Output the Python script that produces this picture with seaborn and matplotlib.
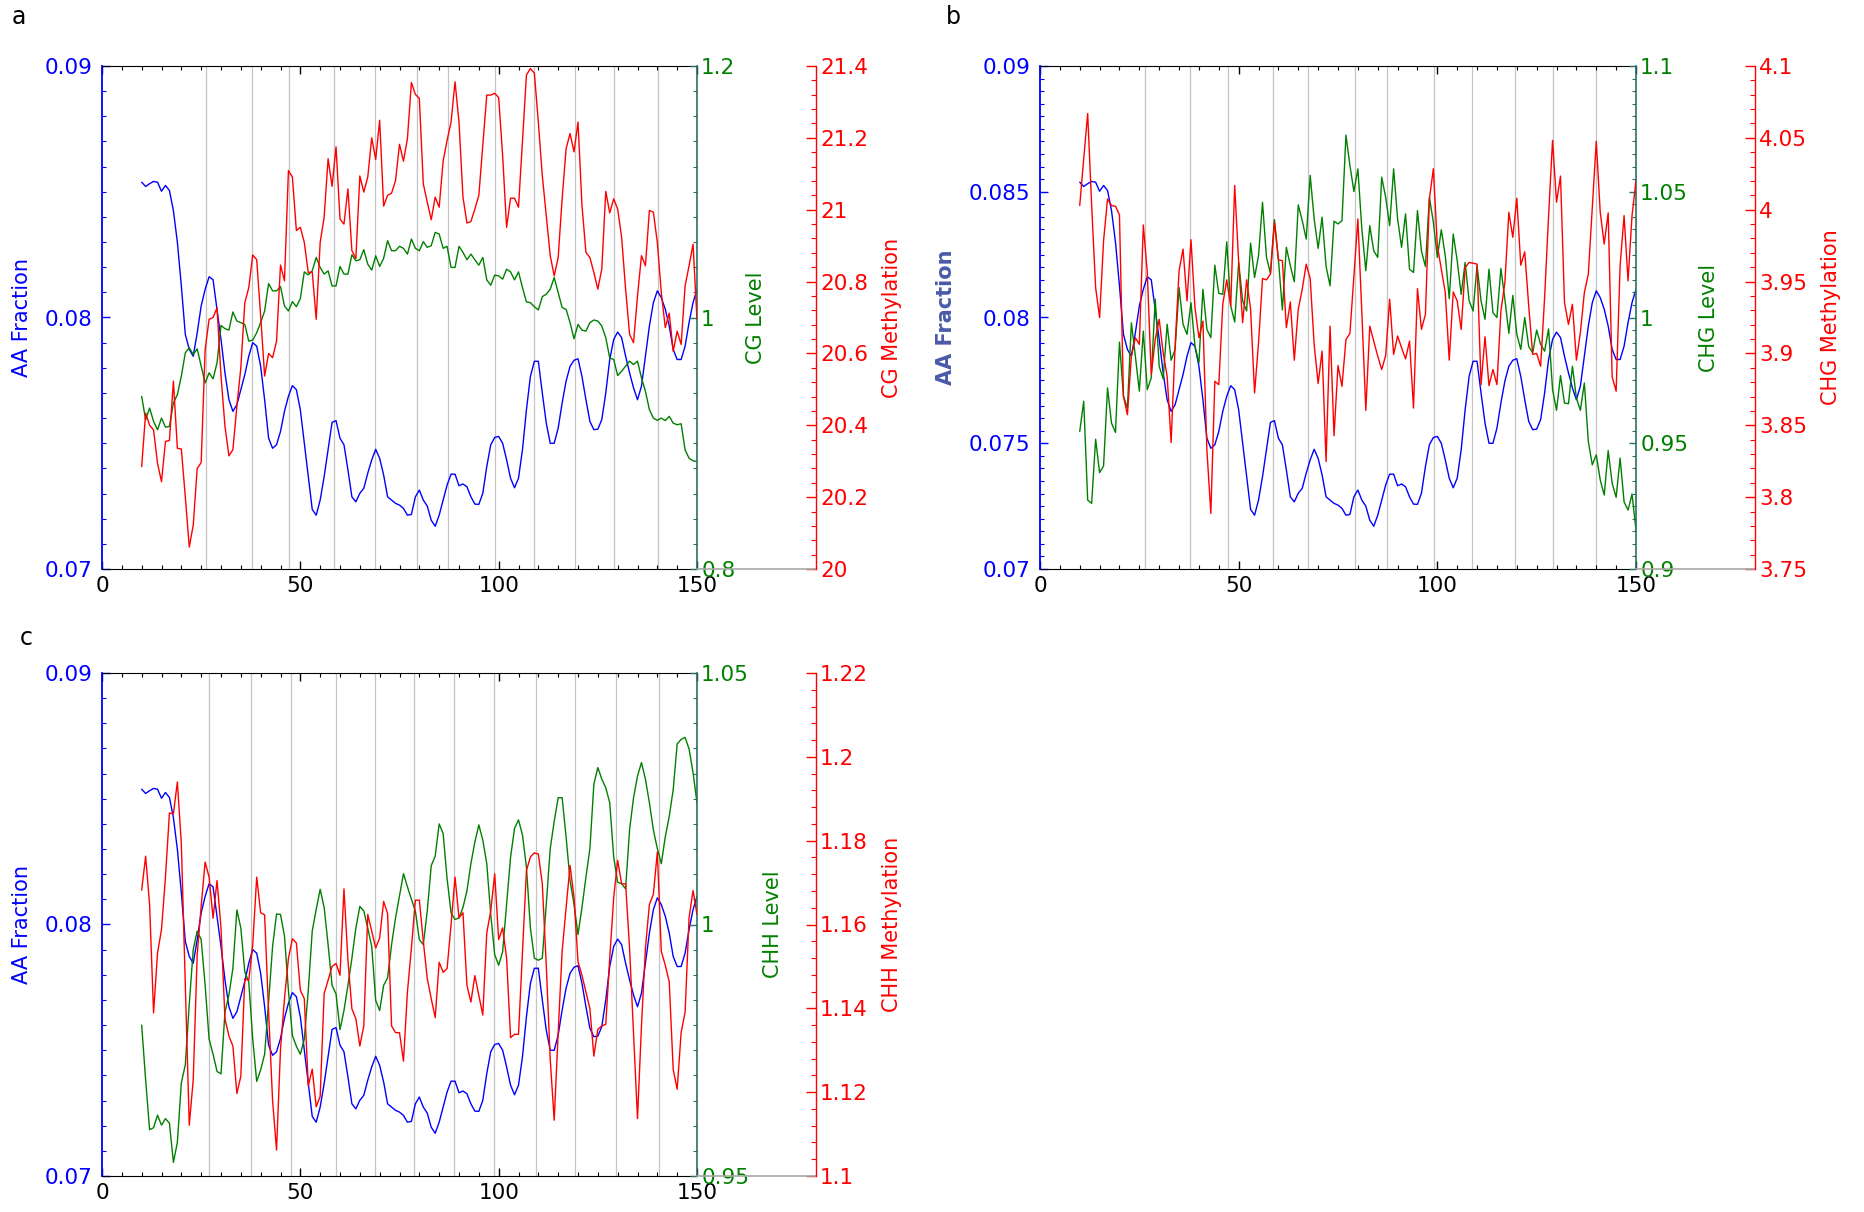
import matplotlib
matplotlib.use("Agg")
import matplotlib.pyplot as plt
import seaborn as sns
import pandas as pd
from matplotlib.ticker import MultipleLocator, FuncFormatter
from matplotlib.lines import Line2D

# ---------------- data ----------------
positions = list(range(10, 151))

aa_fraction = [
    0.08538, 0.08521, 0.08532, 0.08541, 0.08538, 0.08502, 0.08525, 0.08505, 0.08425, 0.08299,
    0.08126, 0.07933, 0.07873, 0.07846, 0.07939, 0.08046, 0.08112, 0.08162, 0.08150, 0.08033,
    0.07913, 0.07780, 0.07673, 0.07627, 0.07653, 0.07713, 0.07773, 0.07846, 0.07900, 0.07886,
    0.07806, 0.07673, 0.07520, 0.07480, 0.07494, 0.07547, 0.07627, 0.07687, 0.07729, 0.07713,
    0.07633, 0.07500, 0.07367, 0.07237, 0.07214, 0.07274, 0.07367, 0.07474, 0.07583, 0.07590,
    0.07520, 0.07494, 0.07394, 0.07287, 0.07267, 0.07301, 0.07321, 0.07381, 0.07434, 0.07476,
    0.07440, 0.07374, 0.07287, 0.07274, 0.07261, 0.07254, 0.07241, 0.07214, 0.07217, 0.07287,
    0.07314, 0.07274, 0.07250, 0.07194, 0.07170, 0.07214, 0.07274, 0.07334, 0.07377, 0.07377,
    0.07331, 0.07338, 0.07327, 0.07287, 0.07258, 0.07257, 0.07301, 0.07407, 0.07494, 0.07523,
    0.07527, 0.07500, 0.07434, 0.07361, 0.07323, 0.07361, 0.07474, 0.07633, 0.07766, 0.07826,
    0.07826, 0.07700, 0.07580, 0.07500, 0.07500, 0.07560, 0.07660, 0.07747, 0.07806, 0.07830,
    0.07836, 0.07766, 0.07673, 0.07587, 0.07554, 0.07556, 0.07594, 0.07700, 0.07833, 0.07913,
    0.07942, 0.07920, 0.07846, 0.07780, 0.07720, 0.07673, 0.07727, 0.07846, 0.07966, 0.08059,
    0.08106, 0.08079, 0.08033, 0.07966, 0.07873, 0.07833, 0.07833, 0.07886, 0.07980, 0.08059,
    0.08112,
]

cg_level = [
    0.9373, 0.9187, 0.9280, 0.9174, 0.9107, 0.9200, 0.9128, 0.9134, 0.9320, 0.9387,
    0.9533, 0.9719, 0.9759, 0.9706, 0.9751, 0.9613, 0.9480, 0.9560, 0.9512, 0.9639,
    0.9937, 0.9911, 0.9900, 1.0044, 0.9972, 0.9959, 0.9945, 0.9812, 0.9820, 0.9879,
    0.9959, 1.0052, 1.0270, 1.0212, 1.0212, 1.0246, 1.0092, 1.0052, 1.0126, 1.0086,
    1.0150, 1.0363, 1.0339, 1.0371, 1.0478, 1.0398, 1.0345, 1.0371, 1.0251, 1.0251,
    1.0406, 1.0345, 1.0345, 1.0499, 1.0451, 1.0459, 1.0539, 1.0424, 1.0377, 1.0491,
    1.0406, 1.0470, 1.0611, 1.0531, 1.0531, 1.0566, 1.0550, 1.0504, 1.0624, 1.0550,
    1.0531, 1.0603, 1.0558, 1.0571, 1.0677, 1.0664, 1.0550, 1.0566, 1.0398, 1.0398,
    1.0566, 1.0518, 1.0459, 1.0504, 1.0459, 1.0416, 1.0478, 1.0299, 1.0257, 1.0337,
    1.0331, 1.0305, 1.0384, 1.0363, 1.0299, 1.0363, 1.0238, 1.0124, 1.0118, 1.0086,
    1.0060, 1.0166, 1.0185, 1.0225, 1.0318, 1.0198, 1.0079, 1.0065, 0.9959, 0.9831,
    0.9945, 0.9900, 0.9892, 0.9959, 0.9980, 0.9972, 0.9932, 0.9839, 0.9679, 0.9666,
    0.9538, 0.9573, 0.9613, 0.9653, 0.9626, 0.9653, 0.9520, 0.9413, 0.9267, 0.9200,
    0.9182, 0.9200, 0.9180, 0.9214, 0.9160, 0.9147, 0.9155, 0.8947, 0.8881, 0.8860,
    0.8854,
]

cg_methylation = [
    20.285, 20.434, 20.400, 20.387, 20.294, 20.243, 20.355, 20.358, 20.523, 20.336,
    20.334, 20.201, 20.061, 20.122, 20.280, 20.296, 20.611, 20.695, 20.700, 20.727,
    20.537, 20.397, 20.315, 20.332, 20.453, 20.560, 20.741, 20.783, 20.874, 20.861,
    20.704, 20.537, 20.600, 20.588, 20.634, 20.846, 20.802, 21.109, 21.091, 20.942,
    20.951, 20.909, 20.825, 20.827, 20.695, 20.909, 20.979, 21.142, 21.065, 21.175,
    20.974, 20.960, 21.058, 20.886, 20.864, 21.094, 21.049, 21.091, 21.200, 21.140,
    21.249, 21.010, 21.040, 21.046, 21.081, 21.182, 21.135, 21.198, 21.354, 21.321,
    21.310, 21.072, 21.021, 20.972, 21.035, 21.007, 21.135, 21.193, 21.244, 21.356,
    21.244, 21.035, 20.963, 20.967, 21.002, 21.040, 21.179, 21.319, 21.319, 21.324,
    21.312, 21.151, 20.951, 21.032, 21.032, 21.007, 21.189, 21.375, 21.393, 21.380,
    21.244, 21.095, 20.984, 20.872, 20.816, 20.867, 21.030, 21.170, 21.212, 21.161,
    21.244, 21.012, 20.881, 20.867, 20.825, 20.779, 20.835, 21.051, 20.991, 21.030,
    21.002, 20.923, 20.779, 20.653, 20.630, 20.760, 20.872, 20.844, 20.998, 20.993,
    20.909, 20.769, 20.672, 20.712, 20.606, 20.662, 20.625, 20.788, 20.844, 20.904,
    20.695,
]

chg_level = [
    0.9547, 0.9667, 0.9274, 0.9261, 0.9516, 0.9383, 0.9410, 0.9720, 0.9580, 0.9543,
    0.9902, 0.9687, 0.9640, 0.9979, 0.9846, 0.9707, 0.9946, 0.9713, 0.9760, 1.0073,
    0.9806, 0.9756, 0.9973, 0.9830, 0.9873, 1.0119, 0.9973, 0.9933, 1.0059, 0.9886,
    0.9820, 1.0112, 0.9953, 0.9920, 1.0208, 1.0096, 1.0092, 1.0301, 1.0046, 0.9982,
    1.0219, 1.0066, 1.0026, 1.0296, 1.0159, 1.0246, 1.0458, 1.0239, 1.0176, 1.0389,
    1.0232, 1.0030, 1.0279, 1.0206, 1.0142, 1.0448, 1.0385, 1.0312, 1.0565, 1.0392,
    1.0275, 1.0399, 1.0203, 1.0126, 1.0383, 1.0372, 1.0385, 1.0725, 1.0605, 1.0501,
    1.0591, 1.0352, 1.0186, 1.0365, 1.0265, 1.0239, 1.0558, 1.0478, 1.0365, 1.0591,
    1.0392, 1.0279, 1.0412, 1.0192, 1.0179, 1.0425, 1.0265, 1.0203, 1.0478, 1.0379,
    1.0239, 1.0349, 1.0246, 1.0075, 1.0332, 1.0226, 1.0092, 1.0219, 1.0066, 1.0026,
    1.0206, 1.0066, 0.9993, 1.0192, 1.0019, 1.0000, 1.0195, 1.0073, 0.9937, 1.0088,
    0.9933, 0.9873, 1.0000, 0.9884, 0.9860, 0.9950, 0.9893, 0.9866, 0.9955, 0.9713,
    0.9631, 0.9769, 0.9660, 0.9657, 0.9806, 0.9680, 0.9631, 0.9740, 0.9507, 0.9414,
    0.9454, 0.9354, 0.9294, 0.9471, 0.9341, 0.9285, 0.9441, 0.9267, 0.9234, 0.9298,
    0.9154,
]

chg_methylation = [
    4.0029, 4.0355, 4.0669, 4.0030, 3.9458, 3.9249, 3.9784, 4.0075, 4.0029, 4.0024,
    3.9964, 3.8702, 3.8574, 3.8981, 3.9109, 3.9063, 3.9894, 3.9563, 3.8853, 3.9097,
    3.9237, 3.9004, 3.8841, 3.8380, 3.9051, 3.9575, 3.9726, 3.9365, 3.9791, 3.9319,
    3.9109, 3.9225, 3.8329, 3.7887, 3.8806, 3.8783, 3.9342, 3.9512, 3.9330, 4.0169,
    3.9633, 3.9214, 3.9512, 3.9307, 3.8725, 3.9074, 3.9521, 3.9512, 3.9552, 3.9913,
    3.9652, 3.9645, 3.9179, 3.9358, 3.8953, 3.9307, 3.9447, 3.9621, 3.9521, 3.9063,
    3.8790, 3.9016, 3.8248, 3.9190, 3.8427, 3.8916, 3.8771, 3.9097, 3.9139, 3.9540,
    3.9936, 3.9284, 3.8604, 3.9190, 3.9086, 3.8981, 3.8888, 3.8986, 3.9377, 3.8993,
    3.9121, 3.9040, 3.8962, 3.9086, 3.8620, 3.9451, 3.9167, 3.9272, 4.0075, 4.0285,
    3.9750, 3.9587, 3.9423, 3.8953, 3.9428, 3.9365, 3.9167, 3.9598, 3.9633, 3.9628,
    3.9621, 3.8783, 3.9116, 3.8776, 3.8888, 3.8783, 3.9295, 3.9493, 3.9982, 3.9808,
    4.0080, 3.9614, 3.9707, 3.9330, 3.8993, 3.9000, 3.8911, 3.9389, 3.9959, 4.0483,
    4.0052, 4.0234, 3.9354, 3.9202, 3.9342, 3.8953, 3.9144, 3.9423, 3.9552, 4.0017,
    4.0476, 3.9982, 3.9761, 3.9978, 3.8837, 3.8737, 3.9610, 3.9959, 3.9505, 3.9959,
    4.0204,
]

chh_level = [
    0.9800, 0.9691, 0.9592, 0.9596, 0.9621, 0.9601, 0.9614, 0.9605, 0.9527, 0.9567,
    0.9685, 0.9721, 0.9842, 0.9950, 0.9987, 0.9970, 0.9879, 0.9772, 0.9742, 0.9708,
    0.9703, 0.9826, 0.9860, 0.9913, 1.0029, 0.9993, 0.9906, 0.9886, 0.9772, 0.9688,
    0.9711, 0.9742, 0.9846, 0.9956, 1.0021, 1.0020, 0.9977, 0.9869, 0.9779, 0.9758,
    0.9742, 0.9772, 0.9869, 0.9987, 1.0030, 1.0070, 1.0034, 0.9960, 0.9879, 0.9862,
    0.9791, 0.9829, 0.9879, 0.9933, 0.9993, 1.0036, 1.0027, 0.9993, 0.9956, 0.9849,
    0.9829, 0.9879, 0.9894, 0.9960, 1.0013, 1.0057, 1.0101, 1.0075, 1.0050, 1.0027,
    0.9970, 0.9960, 1.0027, 1.0117, 1.0136, 1.0200, 1.0181, 1.0091, 1.0023, 1.0010,
    1.0013, 1.0034, 1.0067, 1.0121, 1.0164, 1.0198, 1.0168, 1.0121, 1.0020, 0.9940,
    0.9919, 0.9946, 1.0040, 1.0134, 1.0191, 1.0208, 1.0178, 1.0114, 0.9993, 0.9933,
    0.9929, 0.9933, 1.0040, 1.0151, 1.0205, 1.0252, 1.0252, 1.0174, 1.0087, 1.0040,
    0.9980, 1.0034, 1.0094, 1.0151, 1.0279, 1.0312, 1.0289, 1.0272, 1.0242, 1.0134,
    1.0084, 1.0081, 1.0071, 1.0188, 1.0252, 1.0295, 1.0322, 1.0289, 1.0242, 1.0188,
    1.0151, 1.0121, 1.0174, 1.0215, 1.0268, 1.0359, 1.0368, 1.0372, 1.0349, 1.0302,
    1.0242,
]

chh_methylation = [
    1.1682, 1.1763, 1.1648, 1.1389, 1.1532, 1.1588, 1.1713, 1.1866, 1.1864, 1.1940,
    1.1793, 1.1455, 1.1121, 1.1230, 1.1528, 1.1644, 1.1749, 1.1713, 1.1615, 1.1705,
    1.1592, 1.1375, 1.1334, 1.1310, 1.1197, 1.1238, 1.1471, 1.1467, 1.1552, 1.1713,
    1.1628, 1.1623, 1.1391, 1.1181, 1.1062, 1.1302, 1.1423, 1.1519, 1.1566, 1.1556,
    1.1443, 1.1423, 1.1215, 1.1255, 1.1165, 1.1190, 1.1435, 1.1467, 1.1500, 1.1507,
    1.1479, 1.1685, 1.1515, 1.1399, 1.1375, 1.1310, 1.1358, 1.1624, 1.1584, 1.1544,
    1.1568, 1.1655, 1.1626, 1.1358, 1.1342, 1.1342, 1.1274, 1.1439, 1.1544, 1.1658,
    1.1658, 1.1560, 1.1471, 1.1423, 1.1378, 1.1510, 1.1486, 1.1495, 1.1600, 1.1713,
    1.1616, 1.1628, 1.1455, 1.1415, 1.1478, 1.1431, 1.1384, 1.1580, 1.1632, 1.1721,
    1.1564, 1.1592, 1.1520, 1.1330, 1.1338, 1.1338, 1.1536, 1.1729, 1.1761, 1.1771,
    1.1768, 1.1697, 1.1503, 1.1278, 1.1133, 1.1342, 1.1536, 1.1640, 1.1741, 1.1664,
    1.1511, 1.1479, 1.1439, 1.1399, 1.1286, 1.1350, 1.1358, 1.1362, 1.1520, 1.1664,
    1.1753, 1.1697, 1.1697, 1.1544, 1.1342, 1.1137, 1.1358, 1.1544, 1.1648, 1.1672,
    1.1773, 1.1536, 1.1503, 1.1463, 1.1254, 1.1207, 1.1342, 1.1391, 1.1616, 1.1681,
    1.1624,
]

grid_a = [26.2, 37.9, 47.2, 58.6, 68.7, 79.5, 87.3, 99.1, 109.0, 119.3, 129.2, 140.1]
grid_b = [26.5, 37.8, 47.4, 58.7, 67.5, 79.4, 87.4, 99.2, 108.8, 119.5, 129.0, 140.0]
grid_c = [26.9, 37.6, 47.7, 59.1, 68.7, 78.7, 88.7, 98.8, 109.3, 119.2, 129.5, 140.3]

# ---------------- style ----------------
sns.set_style("white")
plt.rcParams['font.family'] = ['DejaVu Sans']

BLUE = '#0000ff'
GREEN = '#008000'
RED = '#ff0000'
TEAL = '#2a6f64'
GRID = '#c4c4c4'
TICK_FS = 15.5
LABEL_FS = 15

fig = plt.figure(figsize=(18.64, 12.12), dpi=100)


def fmt(v, p):
    return f"{round(v, 6):g}"


def make_panel(rect, level, meth, grid, lvl_lim, lvl_steps, meth_lim, meth_steps,
               aa_steps, lvl_name, meth_name, letter, letter_xy,
               aa_label_x, lvl_label_x, meth_label_x, aa_color, aa_weight):
    df = pd.DataFrame({'pos': positions, 'aa': aa_fraction,
                       'level': level, 'meth': meth})
    ax = fig.add_axes(rect)
    ax2 = ax.twinx()
    ax3 = ax.twinx()

    for g in grid:
        ax.axvline(g, color=GRID, lw=0.9, zorder=0)

    sns.lineplot(data=df, x='pos', y='aa', ax=ax, color=BLUE, lw=1.0, estimator=None)
    sns.lineplot(data=df, x='pos', y='level', ax=ax2, color=GREEN, lw=1.0, estimator=None)
    sns.lineplot(data=df, x='pos', y='meth', ax=ax3, color=RED, lw=1.0, estimator=None)

    for a in (ax, ax2, ax3):
        a.set_xlabel('')
        a.set_ylabel('')
        a.set_xlim(0, 150)

    ax.set_ylim(0.07, 0.09)
    ax2.set_ylim(*lvl_lim)
    ax3.set_ylim(*meth_lim)

    # x axis
    ax.xaxis.set_major_locator(MultipleLocator(50))
    ax.xaxis.set_minor_locator(MultipleLocator(5))
    ax.tick_params(axis='x', which='both', direction='in', top=True, bottom=True,
                   colors='black', labelsize=TICK_FS, pad=5)
    ax.tick_params(axis='x', which='major', length=6, width=1)
    ax.tick_params(axis='x', which='minor', length=3, width=0.8)

    # left axis (AA Fraction)
    ax.yaxis.set_major_locator(MultipleLocator(aa_steps[0]))
    ax.yaxis.set_minor_locator(MultipleLocator(aa_steps[1]))
    ax.yaxis.set_major_formatter(FuncFormatter(fmt))
    ax.tick_params(axis='y', which='both', direction='in', left=True, right=False,
                   colors=BLUE, labelsize=TICK_FS, pad=7)
    ax.tick_params(axis='y', which='major', length=6, width=1)
    ax.tick_params(axis='y', which='minor', length=3, width=0.8)

    # green axis
    ax2.yaxis.set_major_locator(MultipleLocator(lvl_steps[0]))
    ax2.yaxis.set_minor_locator(MultipleLocator(lvl_steps[1]))
    ax2.yaxis.set_major_formatter(FuncFormatter(fmt))
    ax2.tick_params(axis='y', which='both', direction='in', right=True, left=False,
                    color=TEAL, labelcolor=GREEN, labelsize=TICK_FS, pad=3)
    ax2.tick_params(axis='y', which='major', length=5, width=1)
    ax2.tick_params(axis='y', which='minor', length=3, width=0.8)

    # red axis
    ax3.spines['right'].set_position(('axes', 1.2))
    ax3.yaxis.set_major_locator(MultipleLocator(meth_steps[0]))
    ax3.yaxis.set_minor_locator(MultipleLocator(meth_steps[1]))
    ax3.yaxis.set_major_formatter(FuncFormatter(fmt))
    ax3.tick_params(axis='y', which='both', direction='in', right=True, left=False,
                    color=RED, labelcolor=RED, labelsize=TICK_FS, pad=3)
    ax3.tick_params(axis='y', which='major', length=7, width=1)
    ax3.tick_params(axis='y', which='minor', length=3.5, width=0.8)

    # spines
    ax.spines['left'].set_color(BLUE)
    ax.spines['left'].set_linewidth(1.3)
    ax.spines['top'].set_color('black')
    ax.spines['bottom'].set_color('black')
    ax.spines['right'].set_visible(False)
    for s in ('left', 'top', 'bottom'):
        ax2.spines[s].set_visible(False)
        ax3.spines[s].set_visible(False)
    ax2.spines['right'].set_color(TEAL)
    ax2.spines['right'].set_linewidth(1.2)
    ax3.spines['right'].set_color(RED)
    ax3.spines['right'].set_linewidth(1.0)
    ax3.add_artist(Line2D([1.0, 1.2], [0, 0], transform=ax3.transAxes,
                          color='#a8a8a8', lw=1.2, clip_on=False))

    # axis labels
    ax.text(aa_label_x, 0.5, 'AA Fraction', transform=ax.transAxes, rotation=90,
            ha='center', va='center', color=aa_color, fontsize=LABEL_FS,
            fontweight=aa_weight)
    ax.text(lvl_label_x, 0.5, lvl_name, transform=ax.transAxes, rotation=90,
            ha='center', va='center', color=GREEN, fontsize=LABEL_FS)
    ax.text(meth_label_x, 0.5, meth_name, transform=ax.transAxes, rotation=90,
            ha='center', va='center', color=RED, fontsize=LABEL_FS)

    fig.text(letter_xy[0] / 1864, 1 - letter_xy[1] / 1212, letter, ha='center',
             va='center', fontsize=17, color='black')


W, H = 1864, 1212
make_panel([102 / W, 1 - 569 / H, 595 / W, 503 / H], cg_level, cg_methylation, grid_a,
           (0.8, 1.2), (0.2, 0.02), (20.0, 21.4), (0.2, 0.04), (0.01, 0.001),
           'CG Level', 'CG Methylation', 'a', (19, 17),
           -0.135, 1.099, 1.327, BLUE, 'normal')
make_panel([1040 / W, 1 - 569 / H, 596 / W, 503 / H], chg_level, chg_methylation, grid_b,
           (0.9, 1.1), (0.05, 0.005), (3.75, 4.1), (0.05, 0.01), (0.005, 0.0005),
           'CHG Level', 'CHG Methylation', 'b', (953, 17),
           -0.158, 1.123, 1.327, '#4a5aa8', 'bold')
make_panel([102 / W, 1 - 1176 / H, 595 / W, 503 / H], chh_level, chh_methylation, grid_c,
           (0.95, 1.05), (0.05, 0.005), (1.1, 1.22), (0.02, 0.004), (0.01, 0.001),
           'CHH Level', 'CHH Methylation', 'c', (26, 638),
           -0.135, 1.127, 1.327, BLUE, 'normal')

fig.savefig('out.png', dpi=100)
